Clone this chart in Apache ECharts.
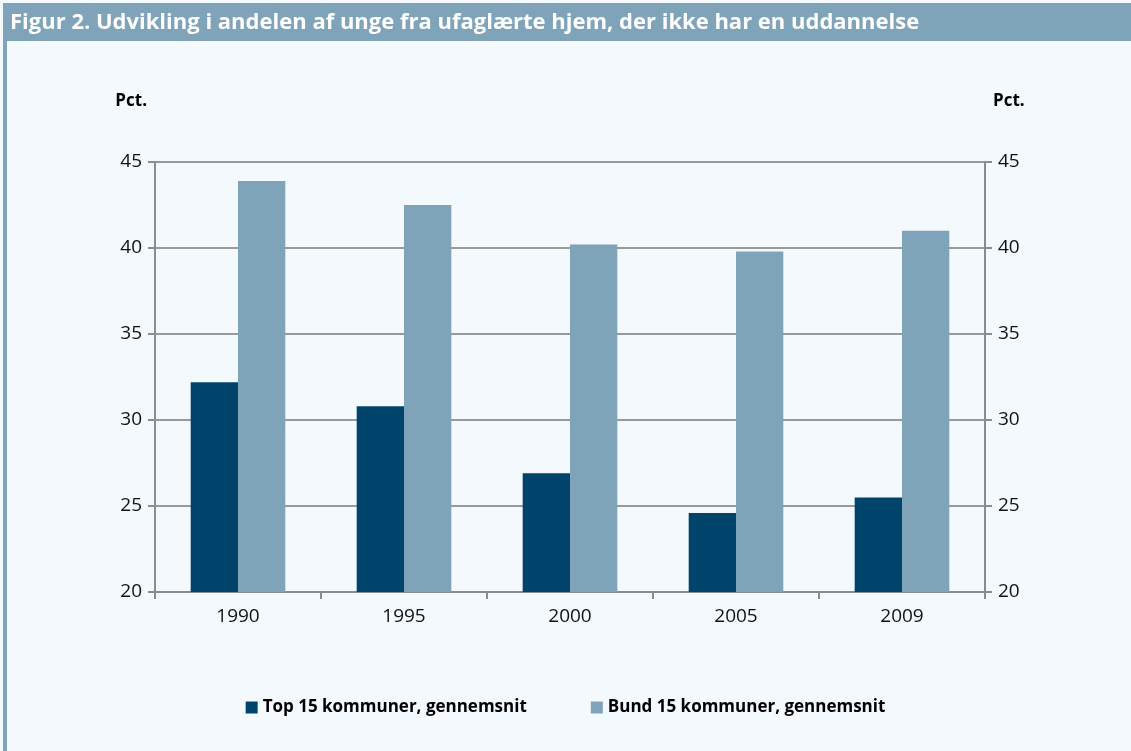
<!DOCTYPE html>
<html><head><meta charset="utf-8">
<script src="https://cdn.jsdelivr.net/npm/echarts@6/dist/echarts.min.js"></script>
<style>html,body{margin:0;padding:0;background:#F4F9FD;}#c{width:1131px;height:751px;}</style>
</head><body><div id="c"></div>
<script>
const categories = ['1990','1995','2000','2005','2009'];
const topValues = [32.2, 30.8, 26.9, 24.6, 25.5];
const bundValues = [43.9, 42.5, 40.2, 39.8, 41.0];
const seriesNames = ['Top 15 kommuner, gennemsnit', 'Bund 15 kommuner, gennemsnit'];
const titleText = 'Figur 2. Udvikling i andelen af unge fra ufaglærte hjem, der ikke har en uddannelse';
const axisUnit = 'Pct.';

const chart = echarts.init(document.getElementById('c'));
const axisCol = '#8C8C8C';
const sans = '"Open Sans", sans-serif';
const nameStyle = {fontSize: 17, fontWeight: 'bold', color: '#000', fontFamily: sans};
const yAxisBase = {
  type: 'value', min: 20, max: 45, interval: 5,
  name: axisUnit, nameLocation: 'end', nameGap: 52,
  axisLine: {show: true, lineStyle: {color: axisCol, width: 2}},
  axisTick: {show: true, length: 7, lineStyle: {color: axisCol, width: 2}},
  axisLabel: {color: '#111', fontSize: 19, fontFamily: sans, margin: 13},
  splitLine: {show: true, lineStyle: {color: '#999999', width: 2}}
};
chart.setOption({
  backgroundColor: '#F4F9FD',
  animation: false,
  graphic: [
    {type: 'rect', shape: {x: 3, y: 3, width: 1128, height: 38}, style: {fill: '#7FA3B8'}},
    {type: 'rect', shape: {x: 3, y: 41, width: 4, height: 710}, style: {fill: '#7FA3B8'}},
    {type: 'text', x: 10, y: 23, style: {text: titleText, fill: '#fff', font: 'bold 22px ' + sans, textVerticalAlign: 'middle'}}
  ],
  grid: {left: 155, right: 146, top: 162, bottom: 159},
  legend: {
    bottom: 30, left: 'center', itemGap: 64, itemWidth: 12, itemHeight: 12, icon: 'rect',
    textStyle: {fontSize: 17, fontWeight: 'bold', color: '#000', fontFamily: sans},
    data: seriesNames
  },
  xAxis: {
    type: 'category', data: categories,
    axisLine: {lineStyle: {color: axisCol, width: 2}},
    axisTick: {show: true, length: 7, lineStyle: {color: axisCol, width: 2}},
    axisLabel: {color: '#111', fontSize: 19, fontFamily: sans, margin: 15}
  },
  yAxis: [
    Object.assign({}, yAxisBase, {position: 'left', nameTextStyle: Object.assign({}, nameStyle, {align: 'right', padding: [0, 8, 0, 0]})}),
    Object.assign({}, yAxisBase, {position: 'right', splitLine: {show: false}, nameTextStyle: Object.assign({}, nameStyle, {align: 'left', padding: [0, 0, 0, 8]})})
  ],
  series: [
    {name: seriesNames[0], type: 'bar', data: topValues, barWidth: '28.5%', barGap: '0%', itemStyle: {color: '#00446B'}},
    {name: seriesNames[1], type: 'bar', data: bundValues, barWidth: '28.5%', barGap: '0%', itemStyle: {color: '#7FA3B8'}}
  ]
});
</script></body></html>
